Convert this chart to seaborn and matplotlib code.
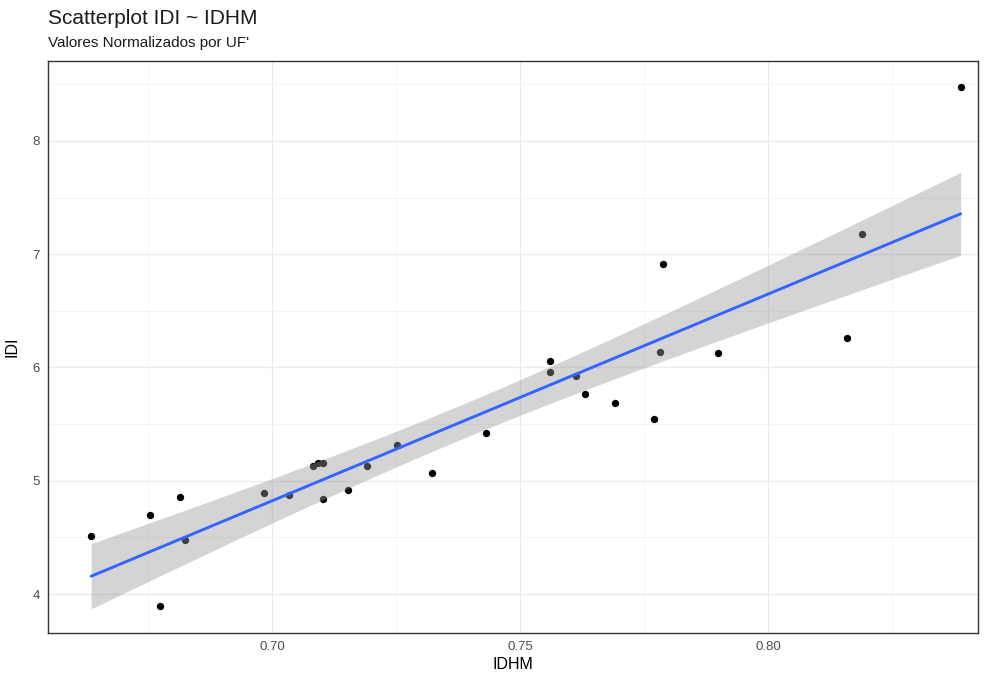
import matplotlib
matplotlib.use("Agg")
import matplotlib.pyplot as plt
from matplotlib.ticker import MultipleLocator
import numpy as np
import pandas as pd
import seaborn as sns

# values
idhm = [0.6635, 0.6754, 0.6814, 0.6825, 0.6774, 0.6984, 0.7034, 0.7082, 0.7093, 0.7103,
        0.7103, 0.7153, 0.7192, 0.7252, 0.7322, 0.7432, 0.7561, 0.7561, 0.7612, 0.7631,
        0.7691, 0.7770, 0.7781, 0.7899, 0.8189, 0.8159, 0.8388, 0.7788]
idi = [4.515, 4.700, 4.854, 4.474, 3.890, 4.890, 4.877, 5.133, 5.154, 5.160,
       4.839, 4.915, 5.128, 5.313, 5.066, 5.424, 6.055, 5.960, 5.922, 5.763,
       5.684, 5.543, 6.137, 6.131, 7.176, 6.264, 8.480, 6.914]
x_ticks = [0.70, 0.75, 0.80]
y_ticks = [4, 5, 6, 7, 8]
T_975 = 2.0555  # t quantile, df = n - 2 = 26

df = pd.DataFrame({"IDHM": idhm, "IDI": idi})


def lm_band(x, y, grid):
    # analytic 95% confidence band of a linear fit (like geom_smooth(method="lm"))
    x = np.asarray(x)
    y = np.asarray(y)
    n = len(x)
    b1, b0 = np.polyfit(x, y, 1)
    resid = y - (b0 + b1 * x)
    s = np.sqrt(np.sum(resid ** 2) / (n - 2))
    sxx = np.sum((x - x.mean()) ** 2)
    fit = b0 + b1 * grid
    se = s * np.sqrt(1 / n + (grid - x.mean()) ** 2 / sxx)
    return fit - T_975 * se, fit + T_975 * se


sns.set_theme(style="white")
plt.rcParams["font.family"] = ["Liberation Sans", "DejaVu Sans"]

fig = plt.figure(figsize=(9.92, 6.77), dpi=100)
ax = fig.add_axes([0.0484, 0.065, 0.9375, 0.845])

sns.regplot(data=df, x="IDHM", y="IDI", ax=ax, ci=None,
            scatter_kws=dict(color="black", s=28, linewidths=0, alpha=1, zorder=2),
            line_kws=dict(color="#3366FF", linewidth=2.1, zorder=4))

grid = np.linspace(min(idhm), max(idhm), 80)
lo, hi = lm_band(idhm, idi, grid)
ax.fill_between(grid, lo, hi, color="#999999", alpha=0.42, linewidth=0, zorder=3)

ax.set_xlim(0.6548, 0.8423)
ax.set_ylim(3.656, 8.706)
ax.set_xticks(x_ticks)
ax.set_yticks(y_ticks)
ax.set_xticklabels([f"{v:.2f}" for v in x_ticks])
ax.set_yticklabels([str(v) for v in y_ticks])
ax.xaxis.set_minor_locator(MultipleLocator(0.025))
ax.yaxis.set_minor_locator(MultipleLocator(0.5))
ax.grid(True, which="major", color="#EBEBEB", linewidth=1.0)
ax.grid(True, which="minor", color="#F2F2F2", linewidth=0.6)
ax.set_axisbelow(True)
ax.tick_params(which="major", length=3, width=0.8, color="#333333",
               labelsize=9.5, labelcolor="#4D4D4D", direction="out", pad=3)
ax.tick_params(which="minor", length=0)
for spine in ax.spines.values():
    spine.set_color("#333333")
    spine.set_linewidth(1.0)

ax.set_xlabel("IDHM", fontsize=11.5, color="black", labelpad=3)
ax.set_ylabel("IDI", fontsize=11.5, color="black", labelpad=9)

fig.text(0.0484, 0.9650, "Scatterplot IDI ~ IDHM", fontsize=15, ha="left", va="baseline", color="#1a1a1a")
fig.text(0.0484, 0.9310, "Valores Normalizados por UF'", fontsize=11, ha="left", va="baseline", color="#1a1a1a")

fig.savefig("out.png", dpi=100, facecolor="white")
